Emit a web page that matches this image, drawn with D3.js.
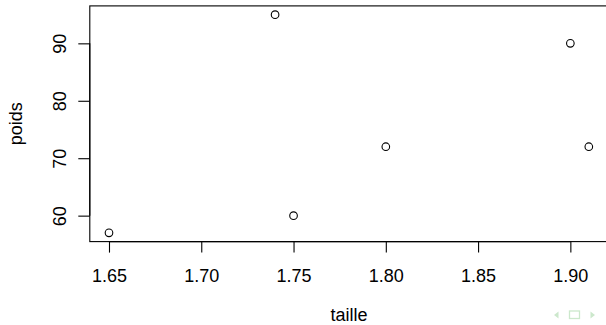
<!DOCTYPE html>
<html><head><meta charset="utf-8">
<script src="https://cdn.jsdelivr.net/npm/d3@7"></script>
<style>
html,body{margin:0;padding:0;background:#fff;}
svg{display:block;font-family:"Liberation Sans",Arial,Helvetica,sans-serif;}
</style></head>
<body>
<svg id="c" width="606" height="325"></svg>
<script>
const taille = [1.65, 1.74, 1.75, 1.80, 1.90, 1.91];
const poids = [57, 95, 60, 72, 90, 72];
const xTicks = [1.65, 1.70, 1.75, 1.80, 1.85, 1.90];
const yTicks = [60, 70, 80, 90];
const xLabel = "taille";
const yLabel = "poids";

const svg = d3.select("#c");
const L = 89.8, R = 608, T = 5.9, B = 241.6;
const FS = 18;

const xmin = d3.min(taille), xmax = d3.max(taille);
const ymin = d3.min(poids), ymax = d3.max(poids);
const xp = (xmax - xmin) * 0.04, yp = (ymax - ymin) * 0.04;
const x = d3.scaleLinear().domain([xmin - xp, xmax + xp]).range([L, R]);
const y = d3.scaleLinear().domain([ymin - yp, ymax + yp]).range([B, T]);

// box
svg.append("rect").attr("x", L).attr("y", T).attr("width", R - L).attr("height", B - T)
  .attr("fill", "none").attr("stroke", "#000").attr("stroke-width", 1.1);

// x axis
const xa = d3.axisBottom(x).tickValues(xTicks).tickFormat(d3.format(".2f")).tickSize(11).tickPadding(14);
const gx = svg.append("g").attr("transform", `translate(0,${B})`).call(xa);
gx.select(".domain").attr("d", `M${x(xTicks[0])},0H${x(xTicks[xTicks.length-1])}`).attr("stroke-width", 1.1);
gx.selectAll(".tick line").attr("stroke-width", 1.1);
gx.selectAll(".tick text").attr("font-size", FS).attr("fill", "#000").attr("font-family", null)
  .attr("dy", null).attr("y", 40.7);

// y axis
const ya = d3.axisLeft(y).tickValues(yTicks).tickSize(11.5).tickPadding(0);
const gy = svg.append("g").attr("transform", `translate(${L},0)`).call(ya);
gy.select(".domain").attr("d", `M0,${y(yTicks[0])}V${y(yTicks[yTicks.length-1])}`).attr("stroke-width", 1.1);
gy.selectAll(".tick line").attr("stroke-width", 1.1);
gy.selectAll(".tick text").attr("font-size", FS).attr("fill", "#000").attr("font-family", null)
  .attr("x", null).attr("dy", null)
  .attr("transform", `translate(-23.8,0) rotate(-90)`)
  .attr("text-anchor", "middle");

// points
svg.append("g").selectAll("circle").data(taille.map((t, i) => [t, poids[i]])).join("circle")
  .attr("cx", d => x(d[0])).attr("cy", d => y(d[1])).attr("r", 3.8)
  .attr("fill", "none").attr("stroke", "#000").attr("stroke-width", 1.1);

// labels
svg.append("text").attr("x", (L + R) / 2).attr("y", 321).attr("text-anchor", "middle")
  .attr("font-size", FS).text(xLabel);
svg.append("text").attr("transform", `translate(22,${(T + B) / 2}) rotate(-90)`)
  .attr("text-anchor", "middle").attr("font-size", FS).text(yLabel);

// beamer navigation symbols
const nav = svg.append("g").attr("fill", "#cce8cc").attr("stroke", "#cce8cc");
nav.append("path").attr("d", "M554,315 L558.5,311.5 L558.5,318.5 Z").attr("stroke", "none");
nav.append("rect").attr("x", 569.5).attr("y", 311).attr("width", 10).attr("height", 7.5)
  .attr("fill", "none").attr("stroke-width", 1.3);
nav.append("path").attr("d", "M590.5,311.5 L595,315 L590.5,318.5 Z").attr("stroke", "none");
</script>
</body></html>
